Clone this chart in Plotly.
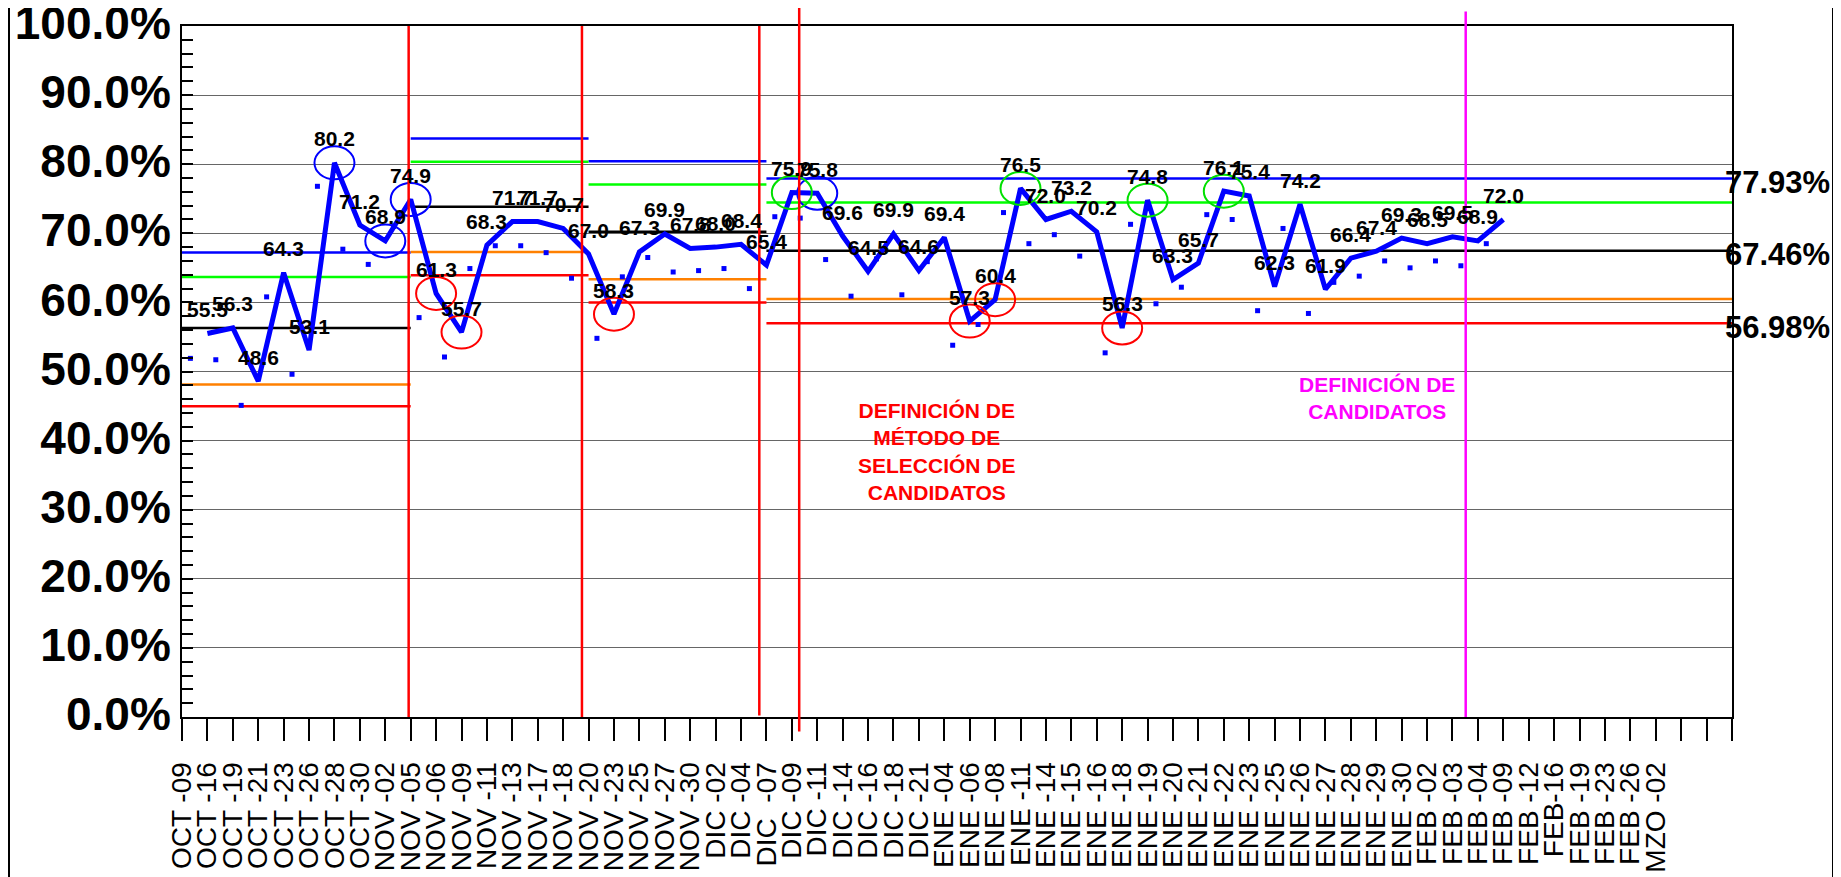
import plotly.graph_objects as go

# ---------------- data ----------------
categories = [
    "OCT -09", "OCT -16", "OCT -19", "OCT -21", "OCT -23", "OCT -26", "OCT -28", "OCT -30",
    "NOV -02", "NOV -05", "NOV -06", "NOV -09", "NOV -11", "NOV -13", "NOV -17", "NOV -18",
    "NOV -20", "NOV -23", "NOV -25", "NOV -27", "NOV -30",
    "DIC -02", "DIC -04", "DIC\u00a0 -07", "DIC -09", "DIC -11", "DIC -14", "DIC -16", "DIC -18", "DIC -21",
    "ENE -04", "ENE -06", "ENE -08", "ENE -11", "ENE -14", "ENE -15", "ENE -16", "ENE -18",
    "ENE -19", "ENE -20", "ENE -21", "ENE -22", "ENE -23", "ENE -25", "ENE -26", "ENE -27",
    "ENE -28", "ENE -29", "ENE -30",
    "FEB -02", "FEB -03", "FEB -04", "FEB -09", "FEB -12", "FEB-16", "FEB -19", "FEB -23",
    "FEB -26", "MZO -02",
]
blank_slots = ["", "", ""]

# main series (percent), plotted from the 2nd category slot onwards
line_values = [
    55.5, 56.3, 48.6, 64.3, 53.1, 80.2, 71.2, 68.9, 74.9, 61.3,
    55.7, 68.3, 71.7, 71.7, 70.7, 67.0, 58.3, 67.3, 69.9, 67.8,
    68.0, 68.4, 65.4, 75.9, 75.8, 69.6, 64.5, 69.9, 64.6, 69.4,
    57.3, 60.4, 76.5, 72.0, 73.2, 70.2, 56.3, 74.8, 63.3, 65.7,
    76.1, 75.4, 62.3, 74.2, 61.9, 66.4, 67.4, 69.3, 68.5, 69.5,
    68.9, 72.0,
]

# secondary series (small square markers)
dot_values = [
    51.9, 51.7, 45.1, 60.8, 49.6, 76.8, 67.7, 65.5, 71.0, 57.8,
    52.1, 64.9, 68.2, 68.2, 67.2, 63.5, 54.8, 63.7, 66.5, 64.4,
    64.6, 64.9, 62.0, 72.4, 72.2, 66.2, 60.9, 66.3, 61.1, 65.9,
    53.8, 56.8, 73.0, 68.5, 69.8, 66.7, 52.7, 71.3, 59.8, 62.2,
    72.7, 72.0, 58.8, 70.7, 58.4, 62.9, 63.8, 66.0, 65.0, 66.0,
    65.3, 68.5,
]

# control-limit periods (category slot index where each period starts / ends)
period_start = [0, 9, 16, 23]
period_end = [9, 16, 23, 61]
ucl = [67.22, 83.72, 80.44, 77.93]
upper2 = [63.69, 80.34, 77.07, 74.44]
center = [56.31, 73.83, 70.21, 67.46]
lower2 = [48.11, 67.31, 63.36, 60.48]
lcl = [44.97, 63.94, 59.98, 56.98]

# highlighted points (slot index of the main series point)
circle_blue = [6, 8, 9, 25]
circle_red = [10, 11, 17, 31, 32, 37]
circle_green = [24, 33, 38, 41]

y_ticks = [0, 10, 20, 30, 40, 50, 60, 70, 80, 90, 100]

# ---------------- figure ----------------
FONT = "Liberation Sans, Arial, sans-serif"
all_slots = categories + blank_slots
n_slots = len(all_slots)          # 62 tick positions
x_max = n_slots - 1

# the page body has an 8px margin: size the figure so the plot box lands
# on the same page pixels as the reference (plot box 182..1732 x 26..717)
OFF = 8
W, H = 1841 - OFF, 877 - OFF
ML, MT = 182 - OFF, 26 - OFF
MR = W - (1732 - OFF)
MB = H - (717 - OFF)

fig = go.Figure()

def period_trace(vals, color):
    xs, ys = [], []
    for s, e, v in zip(period_start, period_end, vals):
        xs += [s, e, None]
        ys += [v, v, None]
    fig.add_trace(go.Scatter(x=xs, y=ys, mode="lines",
                             line=dict(color=color, width=2.5),
                             hoverinfo="skip", showlegend=False))

period_trace(ucl, "#0000FF")
period_trace(upper2, "#00FF00")
period_trace(center, "#000000")
period_trace(lower2, "#FF8000")
period_trace(lcl, "#FF0000")

# small square markers
dot_x = [i + 0.33 for i in range(len(dot_values))]
fig.add_trace(go.Scatter(x=dot_x, y=dot_values, mode="markers",
                         marker=dict(symbol="square", size=5, color="#0000FF"),
                         showlegend=False))

# main thick line
line_x = [i + 1 for i in range(len(line_values))]
fig.add_trace(go.Scatter(x=line_x, y=line_values, mode="lines",
                         line=dict(color="#0000FF", width=5),
                         showlegend=False))

annotations = []
for xv, yv in zip(line_x, line_values):
    annotations.append(dict(x=xv, y=yv, xref="x", yref="y", text=f"{yv:.1f}",
                            showarrow=False, yshift=24,
                            font=dict(family=FONT, size=21, color="black", weight="bold")))

plot_w = 1732 - 182
# right-hand limit labels (last period)
for v in (ucl[-1], center[-1], lcl[-1]):
    annotations.append(dict(x=(1723 - 182) / plot_w, xref="paper", y=v, yref="y",
                            xanchor="left", yshift=-4, showarrow=False,
                            text=f"{v:.2f}%",
                            font=dict(family=FONT, size=31, color="black", weight="bold")))

annotations.append(dict(x=29.73, y=38.45, xref="x", yref="y", showarrow=False,
                        text="DEFINICIÓN DE<br>MÉTODO DE<br>SELECCIÓN DE<br>CANDIDATOS",
                        font=dict(family=FONT, size=21, color="#FF0000", weight="bold")))
annotations.append(dict(x=47.03, y=46.1, xref="x", yref="y", showarrow=False,
                        text="DEFINICIÓN DE<br>CANDIDATOS",
                        font=dict(family=FONT, size=21, color="#FF00FF", weight="bold")))

shapes = []
for idxs, col in ((circle_blue, "#0000FF"), (circle_red, "#FF0000"), (circle_green, "#00E000")):
    for k in idxs:
        v = line_values[k - 1]
        shapes.append(dict(type="circle", xref="x", yref="y",
                           xsizemode="pixel", ysizemode="pixel",
                           xanchor=k, yanchor=v, x0=-20, x1=20, y0=-16.5, y1=16.5,
                           line=dict(color=col, width=2)))

# vertical event lines (paper coords so they may exceed the plot box)
for xk, y0, y1, col in ((8.92, 0, 1, "#FF0000"), (15.74, 0, 1, "#FF0000"),
                         (22.72, 0.002, 1, "#FF0000"), (24.29, -0.021, 1.04, "#FF0000"),
                         (50.52, 0, 1.021, "#FF00FF")):
    shapes.append(dict(type="line", xref="paper", yref="paper",
                       x0=xk / x_max, x1=xk / x_max, y0=y0, y1=y1,
                       line=dict(color=col, width=2.5)))

# outer chart frame (left / right edges)
for px in (OFF + 1, 1833):
    xp = (px - 182) / plot_w
    shapes.append(dict(type="line", xref="paper", yref="paper", x0=xp, x1=xp,
                       y0=-0.4, y1=1.1, line=dict(color="black", width=2)))

fig.update_layout(
    width=W, height=H,
    margin=dict(l=ML, r=MR, t=MT, b=MB, pad=0),
    paper_bgcolor="white", plot_bgcolor="white",
    font=dict(family=FONT, color="black"),
    showlegend=False,
    annotations=annotations,
    shapes=shapes,
    xaxis=dict(
        range=[0, x_max], tickmode="array",
        tickvals=list(range(n_slots)), ticktext=all_slots,
        tickangle=-90, ticks="outside", ticklen=22, tickwidth=2, tickcolor="black",
        ticklabelstandoff=10, ticklabeloverflow="allow",
        tickfont=dict(family=FONT, size=28, color="black"),
        showgrid=False, zeroline=False, showline=True, linecolor="black",
        linewidth=2, mirror=True, automargin=False, fixedrange=True,
    ),
    yaxis=dict(
        range=[0, 100], tickmode="array", tickvals=y_ticks,
        ticktext=[f"{v:.1f}%" for v in y_ticks],
        ticks="inside", ticklen=11, tickwidth=2, tickcolor="black",
        ticklabeloverflow="allow", ticklabelshift=-3,
        minor=dict(dtick=2, ticks="inside", ticklen=11, tickwidth=2, tickcolor="black",
                   showgrid=False),
        tickfont=dict(family=FONT, size=46, color="black", weight="bold"),
        showgrid=True, gridcolor="#666666", gridwidth=1,
        zeroline=False, showline=True, linecolor="black", linewidth=2,
        mirror=True, automargin=False, fixedrange=True,
    ),
)

fig.write_html("out.html")
